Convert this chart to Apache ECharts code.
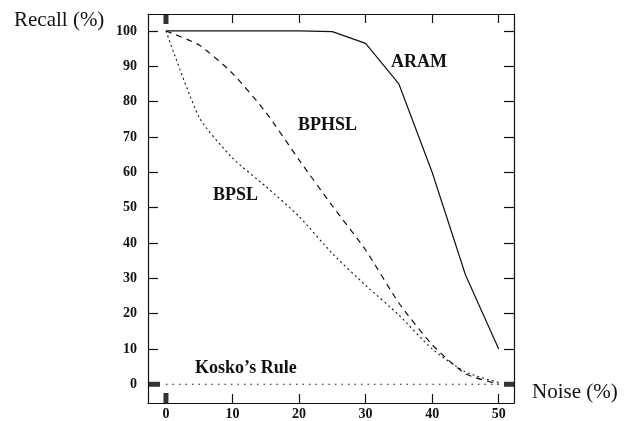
<!DOCTYPE html>
<html>
<head>
<meta charset="utf-8">
<script src="https://cdn.jsdelivr.net/npm/echarts@6/dist/echarts.min.js"></script>
<style>
  html, body { margin: 0; padding: 0; background: #fff; }
  #chart { width: 629px; height: 421px; }
</style>
</head>
<body>
<div id="chart"></div>
<script>
// noise levels (%)
var noise = [0, 5, 10, 15, 20, 25, 30, 35, 40, 45, 50];
// recall (%)
var aram   = [100, 100, 100, 100, 100, 99.8, 96.5, 85, 60, 31, 10];
var bphsl  = [100, 96, 88, 77, 63.5, 50.5, 38, 23, 11.2, 3, 0];
var bpsl   = [100, 75.5, 64, 56, 47.5, 37, 28, 19.6, 10, 3.5, 0.5];
var kosko  = [0, 0, 0, 0, 0, 0, 0, 0, 0, 0, 0];

var xTickLabels = [0, 10, 20, 30, 40, 50];
var yTickLabels = [0, 10, 20, 30, 40, 50, 60, 70, 80, 90, 100];

var xMin = -2.7, xMax = 52.3, yMin = -5.3, yMax = 104.8;

function pairs(ys){
  return noise.map(function(x, i){ return [x, ys[i]]; });
}

var ink = '#111';
var serif = '"Liberation Serif", "DejaVu Serif", serif';

var myChart = echarts.init(document.getElementById('chart'));

var option = {
  animation: false,
  backgroundColor: '#fff',
  grid: { left: 148, right: 115, top: 14, bottom: 14, containLabel: false },
  xAxis: [{
    type: 'value', min: xMin, max: xMax, position: 'bottom',
    axisLine: { show: true, onZero: false, lineStyle: { color: ink, width: 1.2 } },
    axisTick: { show: true, inside: true, length: 9, customValues: [10, 20, 30, 40, 50], lineStyle: { color: ink, width: 1.2 } },
    axisLabel: { customValues: xTickLabels, color: ink, fontFamily: serif, fontWeight: 'bold', fontSize: 14, margin: 4 },
    splitLine: { show: false }
  }, {
    type: 'value', min: xMin, max: xMax, position: 'top',
    axisLine: { show: true, onZero: false, lineStyle: { color: ink, width: 1.2 } },
    axisTick: { show: true, inside: true, length: 9, customValues: [10, 20, 30, 40, 50], lineStyle: { color: ink, width: 1.2 } },
    axisLabel: { show: false },
    splitLine: { show: false }
  }],
  yAxis: [{
    type: 'value', min: yMin, max: yMax, position: 'left',
    axisLine: { show: true, onZero: false, lineStyle: { color: ink, width: 1.2 } },
    axisTick: { show: true, inside: true, length: 10, customValues: [10, 20, 30, 40, 50, 60, 70, 80, 90, 100], lineStyle: { color: ink, width: 1.2 } },
    axisLabel: { customValues: yTickLabels, color: ink, fontFamily: serif, fontWeight: 'bold', fontSize: 14, margin: 11 },
    splitLine: { show: false }
  }, {
    type: 'value', min: yMin, max: yMax, position: 'right',
    axisLine: { show: true, onZero: false, lineStyle: { color: ink, width: 1.2 } },
    axisTick: { show: true, inside: true, length: 10, customValues: [10, 20, 30, 40, 50, 60, 70, 80, 90, 100], lineStyle: { color: ink, width: 1.2 } },
    axisLabel: { show: false },
    splitLine: { show: false }
  }],
  series: [{
    name: 'ARAM', type: 'line', data: pairs(aram), showSymbol: false,
    lineStyle: { color: ink, width: 1.2, type: 'solid' }
  }, {
    name: 'BPHSL', type: 'line', data: pairs(bphsl), showSymbol: false,
    smooth: 0.2,
    lineStyle: { color: ink, width: 1.2, type: [6, 5] }
  }, {
    name: 'BPSL', type: 'line', data: pairs(bpsl), showSymbol: false,
    smooth: 0.2,
    lineStyle: { color: ink, width: 1.1, type: [2, 3] }
  }, {
    name: "Kosko's Rule", type: 'line', data: pairs(kosko), showSymbol: false,
    lineStyle: { color: ink, width: 1.1, type: [1.5, 5] }
  }, {
    // black marker blocks at the zero positions on the frame
    type: 'scatter', symbol: 'rect', silent: true,
    itemStyle: { color: '#000' },
    data: [
      { value: [0, yMax], symbolSize: [5, 10], symbolOffset: [0, 5] },
      { value: [0, yMin], symbolSize: [5, 10], symbolOffset: [0, -5] },
      { value: [xMin, 0], symbolSize: [12, 5], symbolOffset: [6, 0] },
      { value: [xMax, 0], symbolSize: [10, 5], symbolOffset: [-5, 0] }
    ]
  }],
  graphic: [
    { type: 'text', left: 14, top: 10, style: { text: 'Recall (%)', font: '21px ' + serif, fill: ink } },
    { type: 'text', left: 532, top: 382, style: { text: 'Noise (%)', font: '21px ' + serif, fill: ink } },
    { type: 'text', left: 391, top: 53, style: { text: 'ARAM', font: 'bold 18px ' + serif, fill: ink } },
    { type: 'text', left: 298, top: 116, style: { text: 'BPHSL', font: 'bold 18px ' + serif, fill: ink } },
    { type: 'text', left: 213, top: 186, style: { text: 'BPSL', font: 'bold 18px ' + serif, fill: ink } },
    { type: 'text', left: 195, top: 359, style: { text: "Kosko\u2019s Rule", font: 'bold 18px ' + serif, fill: ink } }
  ]
};

myChart.setOption(option);
</script>
</body>
</html>
